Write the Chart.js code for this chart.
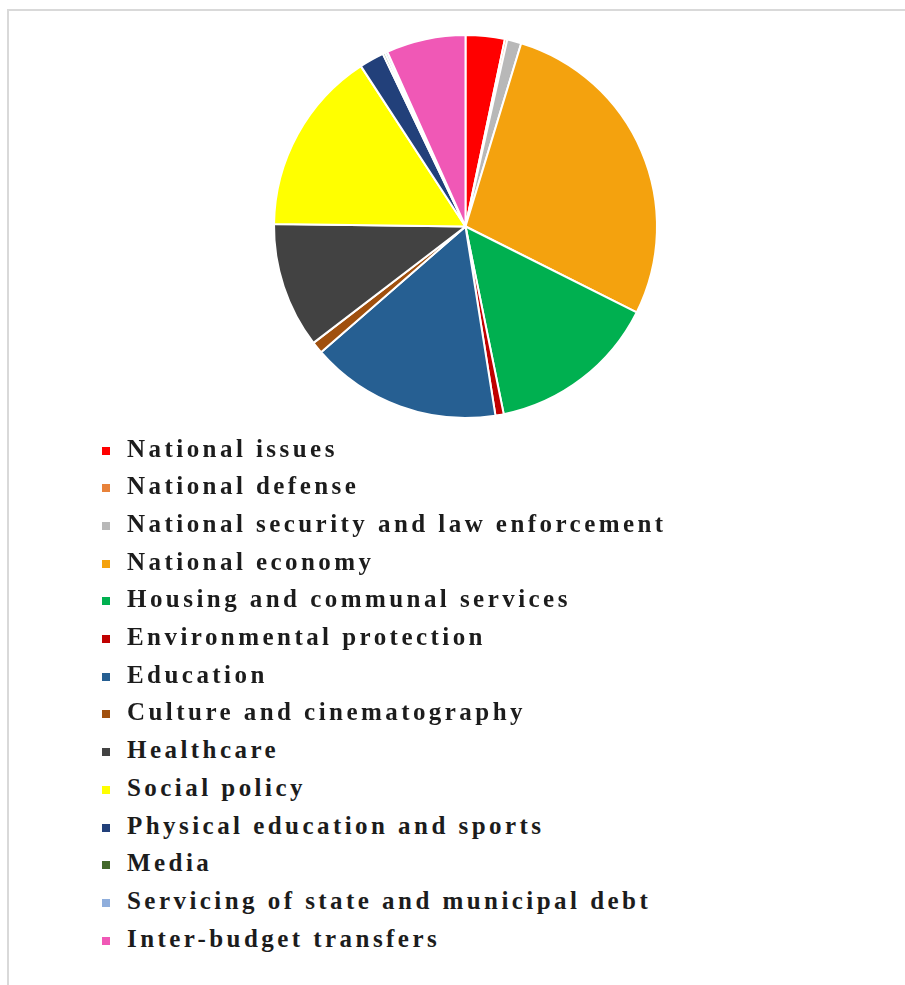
<!DOCTYPE html>
<html>
<head>
<meta charset="utf-8">
<script src="https://cdn.jsdelivr.net/npm/chart.js@4.4.1/dist/chart.umd.min.js"></script>
<style>
  html, body { margin: 0; padding: 0; background: #ffffff; }
  body { width: 905px; height: 985px; position: relative; overflow: hidden; }
  #frame { position: absolute; left: 7px; top: 9px; width: 898px; height: 976px;
           border-top: 2px solid #d9d9d9; border-left: 2px solid #d9d9d9; box-sizing: border-box; }
  #wrap { position: absolute; left: 0; top: 0; width: 905px; height: 460px; }
  #legend { position: absolute; left: 0; top: 0; margin: 0; padding: 0; list-style: none; }
  #legend li { position: absolute; left: 0; white-space: nowrap; height: 30px; }
  #legend .box { position: absolute; left: 102px; width: 8px; height: 8px; }
  #legend .txt { position: absolute; left: 127px; font-family: "Liberation Serif", "DejaVu Serif", serif;
                 font-weight: bold; font-size: 25px; letter-spacing: 3.45px; color: #1c1c1c; line-height: 30px; }
</style>
</head>
<body>
<div id="frame"></div>
<div id="wrap"><canvas id="c"></canvas></div>
<ul id="legend"></ul>
<script>
const categories = [
  "National issues",
  "National defense",
  "National security and law enforcement",
  "National economy",
  "Housing and communal services",
  "Environmental protection",
  "Education",
  "Culture and cinematography",
  "Healthcare",
  "Social policy",
  "Physical education and sports",
  "Media",
  "Servicing of state and municipal debt",
  "Inter-budget transfers"
];
const shares = [3.3, 0.2, 1.2, 27.7, 14.4, 0.7, 16.1, 1.0, 10.6, 15.6, 2.1, 0.2, 0.2, 6.7];
const sliceColors = [
  "#ff0000", "#e8823a", "#b8b8b8", "#f4a20e", "#00b050", "#c00000", "#265f92",
  "#a0500e", "#424242", "#ffff00", "#22407a", "#43682b", "#8faedc", "#f058b6"
];

const chart = new Chart(document.getElementById('c'), {
  type: 'pie',
  data: {
    labels: categories,
    datasets: [{
      data: shares,
      backgroundColor: sliceColors,
      borderColor: '#ffffff',
      borderWidth: 2
    }]
  },
  options: {
    responsive: true,
    maintainAspectRatio: false,
    animation: false,
    layout: { padding: { left: 273, right: 247, top: 34, bottom: 41 } },
    plugins: {
      legend: { display: false },
      tooltip: { enabled: false }
    }
  }
});

// HTML legend built from the chart's own legend items
const items = Chart.overrides.pie.plugins.legend.labels.generateLabels(chart);
const ul = document.getElementById('legend');
const firstY = 433.5, step = 37.7;
items.forEach((it, i) => {
  const li = document.createElement('li');
  const y = firstY + i * step;
  li.style.top = y + 'px';
  const box = document.createElement('span');
  box.className = 'box';
  box.style.background = it.fillStyle;
  box.style.top = '13px';
  const txt = document.createElement('span');
  txt.className = 'txt';
  txt.style.top = '0px';
  txt.textContent = it.text;
  li.appendChild(box);
  li.appendChild(txt);
  ul.appendChild(li);
});
</script>
</body>
</html>
